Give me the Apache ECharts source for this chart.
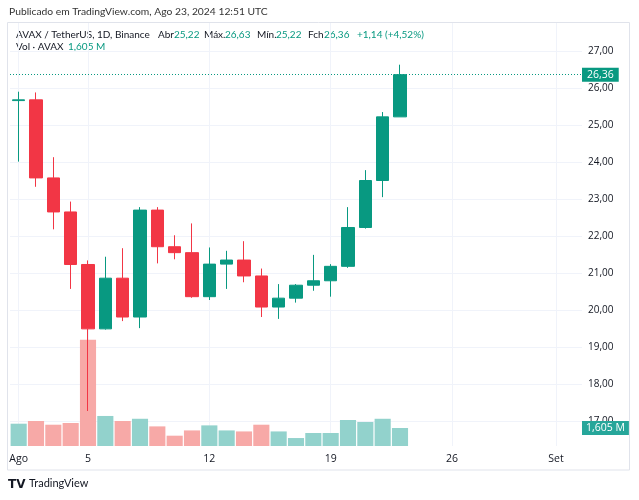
<!DOCTYPE html>
<html>
<head>
<meta charset="utf-8">
<title>AVAX / TetherUS</title>
<script src="https://cdn.jsdelivr.net/npm/echarts@6/dist/echarts.min.js"></script>
<style>
  html, body { margin: 0; padding: 0; background: #fff; }
  #chart { width: 639px; height: 500px; }
</style>
</head>
<body>
<div id="chart"></div>
<script>
// dias (agosto 2024 + espaço vazio até 2 de setembro)
const days = [
  '2024-08-01', '2024-08-02', '2024-08-03', '2024-08-04', '2024-08-05', '2024-08-06',
  '2024-08-07', '2024-08-08', '2024-08-09', '2024-08-10', '2024-08-11', '2024-08-12',
  '2024-08-13', '2024-08-14', '2024-08-15', '2024-08-16', '2024-08-17', '2024-08-18',
  '2024-08-19', '2024-08-20', '2024-08-21', '2024-08-22', '2024-08-23', '2024-08-24',
  '2024-08-25', '2024-08-26', '2024-08-27', '2024-08-28', '2024-08-29', '2024-08-30',
  '2024-08-31', '2024-09-01', '2024-09-02'
]
const tickLabels = {
  '2024-08-01': 'Ago', '2024-08-05': '5', '2024-08-12': '12',
  '2024-08-19': '19', '2024-08-26': '26', '2024-09-01': 'Set'
}
const opens  = [25.66, 25.68, 23.57, 22.65, 21.23, 19.49, 20.86, 19.81, 22.70, 21.71, 21.55, 20.36,
                21.24, 21.35, 20.92, 20.08, 20.32, 20.67, 20.79, 21.18, 22.23, 23.50, 25.22]
const closes = [25.68, 23.57, 22.65, 21.23, 19.49, 20.86, 19.81, 22.70, 21.71, 21.55, 20.36, 21.24,
                21.35, 20.92, 20.08, 20.32, 20.67, 20.79, 21.18, 22.23, 23.50, 25.22, 26.36]
const lows   = [24.01, 23.33, 22.18, 20.57, 17.27, 19.47, 19.70, 19.51, 21.26, 21.37, 20.33, 20.27,
                20.57, 20.75, 19.81, 19.76, 20.20, 20.52, 20.36, 21.14, 22.20, 23.05, 25.22]
const highs  = [25.90, 25.88, 24.13, 22.93, 21.34, 21.44, 21.67, 22.78, 22.78, 22.02, 22.34, 21.69,
                21.60, 21.86, 21.12, 20.70, 20.70, 21.49, 21.24, 22.78, 23.78, 25.35, 26.63]
// volume em milhões de AVAX
const volumes = [1.99, 2.23, 1.90, 2.05, 9.48, 2.68, 2.23, 2.43, 1.75, 0.92, 1.39, 1.84,
                 1.39, 1.30, 1.90, 1.30, 0.71, 1.16, 1.16, 2.32, 2.14, 2.43, 1.605]
const lastPrice = 26.36
const lastVolume = 1.605

const UP = '#089981'
const DOWN = '#F23645'
const UP_VOL = '#92d2cc'
const DOWN_VOL = '#f7a9a7'
const GRID = '#f0f3fa'
const TXT = '#131722'
const FONT = '"Open Sans", sans-serif'
const HFONT = 'Lato, sans-serif'

const fmt = v => v.toFixed(2).replace('.', ',')

const candles = opens.map((o, i) => [o, closes[i], lows[i], highs[i]])
const volBars = volumes.map((v, i) => ({
  value: v,
  itemStyle: { color: closes[i] >= opens[i] ? UP_VOL : DOWN_VOL }
}))

const chart = echarts.init(document.getElementById('chart'))

const hiddenX = idx => ({
  type: 'category', gridIndex: idx, data: days, boundaryGap: true,
  axisLine: { show: false }, axisTick: { show: false }, axisLabel: { show: false },
  splitLine: { show: false }
})

const legendItems = [
  // [texto, x, cor]
  ['AVAX / TetherUS, 1D, Binance', 16, TXT],
  ['Abr', 158, TXT], [fmt(opens[22]), 174, UP],
  ['Máx.', 204, TXT], [fmt(highs[22]), 225, UP],
  ['Mín.', 257, TXT], [fmt(lows[22]), 276, UP],
  ['Fch', 308, TXT], [fmt(closes[22]), 324, UP],
  ['+1,14 (+4,52%)', 357, UP]
]

const graphics = [
  {
    type: 'rect', z: -1, silent: true,
    shape: { x: 7.5, y: 22.5, width: 622, height: 447.5 },
    style: { fill: 'none', stroke: '#e0e3eb', lineWidth: 1 }
  },
  {
    type: 'text', left: 9, top: 7,
    style: { text: 'Publicado em TradingView.com, Ago 23, 2024 12:51 UTC', fill: '#333', font: '10.3px ' + HFONT }
  },
  {
    type: 'text', left: 16, top: 42,
    style: { text: 'Vol · AVAX', fill: TXT, font: '10px ' + HFONT }
  },
  {
    type: 'text', left: 68, top: 42,
    style: { text: '1,605 M', fill: UP, font: '10px ' + HFONT }
  },
  {
    type: 'text', left: 8, top: 479,
    style: { text: 'TV', fill: TXT, font: '900 12px "DejaVu Sans", sans-serif' }
  },
  {
    type: 'text', left: 29, top: 478,
    style: { text: 'TradingView', fill: TXT, font: '11px ' + HFONT }
  }
]
legendItems.forEach(([t, x, c]) => {
  graphics.push({ type: 'text', left: x, top: 30, style: { text: t, fill: c, font: '10px ' + HFONT } })
})

const option = {
  animation: false,
  backgroundColor: '#fff',
  textStyle: { fontFamily: FONT },
  grid: [
    { left: 10, width: 572, top: 51, height: 370 },   // preço
    { left: 10, width: 572, top: 330, height: 116 },  // volume
    { left: 10, width: 572, top: 23, height: 423 }    // linhas verticais + rótulos
  ],
  xAxis: [
    hiddenX(0),
    hiddenX(1),
    {
      type: 'category', gridIndex: 2, data: days, boundaryGap: true,
      axisLine: { show: false }, axisTick: { show: false },
      axisLabel: {
        interval: (i, v) => v in tickLabels,
        formatter: v => tickLabels[v] || '',
        color: TXT, fontSize: 10.5, margin: 8
      },
      splitLine: {
        show: true, alignWithLabel: true,
        interval: (i, v) => v in tickLabels,
        lineStyle: { color: GRID, width: 1 }
      }
    }
  ],
  yAxis: [
    {
      type: 'value', gridIndex: 0, position: 'right', min: 17, max: 27, interval: 1,
      axisLine: { show: false }, axisTick: { show: false },
      axisLabel: { formatter: fmt, color: TXT, fontSize: 10, margin: 6 },
      splitLine: { lineStyle: { color: GRID, width: 1 } }
    },
    {
      type: 'value', gridIndex: 1, min: 0, max: 10.35, show: false,
      splitLine: { show: false }
    },
    { type: 'value', gridIndex: 2, show: false, splitLine: { show: false } }
  ],
  series: [
    {
      name: 'Vol', type: 'bar', xAxisIndex: 1, yAxisIndex: 1, z: 1,
      barCategoryGap: '7%',
      data: volBars,
      markLine: {
        silent: true, symbol: 'none',
        lineStyle: { color: 'rgba(0,0,0,0)', width: 0 },
        label: {
          show: true, position: 'end', distance: 0,
          formatter: '1,605 M',
          color: '#fff', backgroundColor: '#26a69a',
          padding: [2, 4, 1, 4], fontSize: 10.5
        },
        data: [{ yAxis: lastVolume }]
      }
    },
    {
      name: 'AVAX', type: 'candlestick', xAxisIndex: 0, yAxisIndex: 0, z: 3,
      barWidth: '73%',
      data: candles,
      itemStyle: {
        color: UP, color0: DOWN,
        borderColor: UP, borderColor0: DOWN, borderWidth: 1
      },
      markLine: {
        silent: true, symbol: 'none',
        lineStyle: { color: UP, type: [1, 2], width: 1 },
        label: {
          position: 'end', distance: 0,
          formatter: fmt(lastPrice),
          color: '#fff', backgroundColor: UP,
          padding: [2, 5, 1, 5], fontSize: 10.5
        },
        data: [{ yAxis: lastPrice }]
      }
    }
  ],
  graphic: graphics
}

chart.setOption(option)
</script>
</body>
</html>
